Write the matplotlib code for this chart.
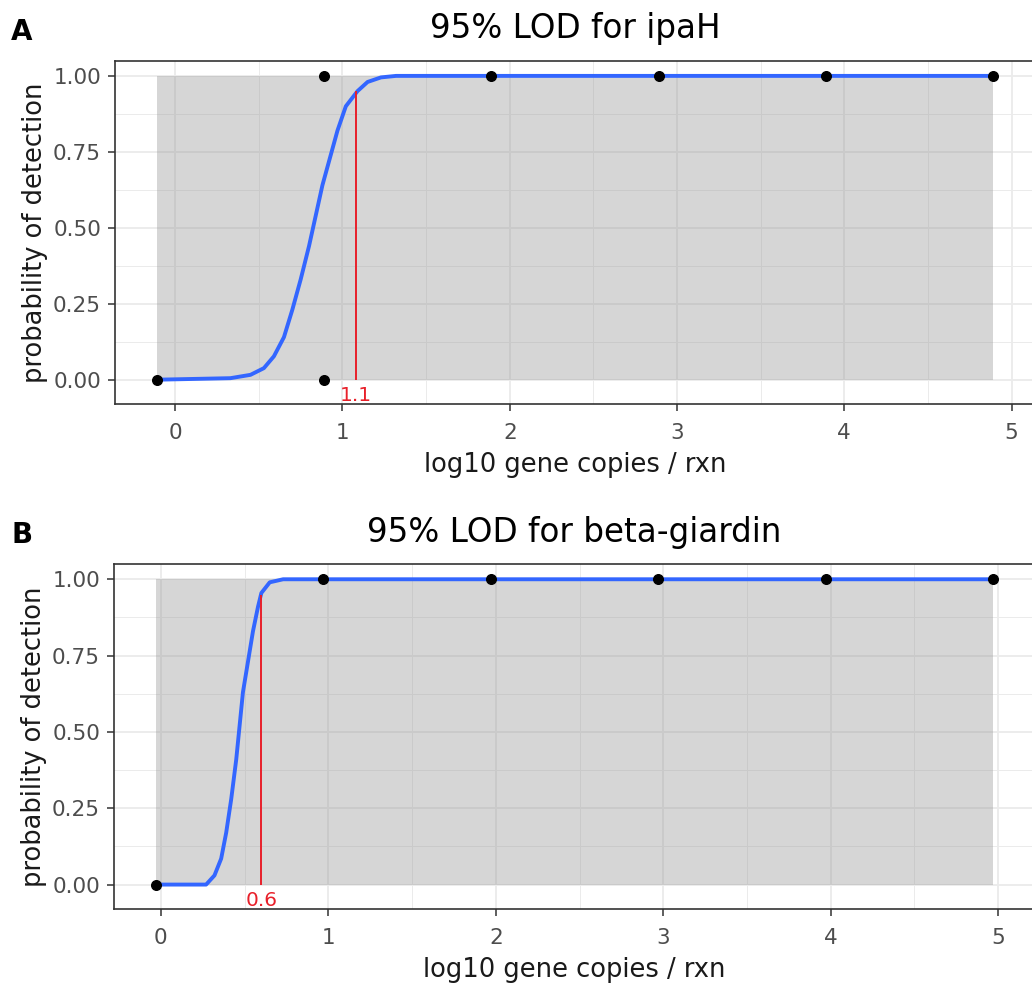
#!/usr/bin/env python3
"""Two-panel 95% LOD logistic fits (ipaH, beta-giardin)."""
import matplotlib
matplotlib.use("Agg")
import matplotlib.pyplot as plt
from matplotlib.ticker import MultipleLocator

# the reference text is wide for its height, DejaVu matches that better
plt.rcParams["font.family"] = ["DejaVu Sans"]

# panel A: ipaH
A_TITLE = "95% LOD for ipaH"
A_POINT_X = [-0.11, 0.89, 0.89, 1.89, 2.89, 3.89, 4.89]
A_POINT_Y = [0.0, 1.0, 0.0, 1.0, 1.0, 1.0, 1.0]
A_CURVE_X = [-0.11, 0.33, 0.45, 0.53, 0.59, 0.65, 0.70, 0.75, 0.80, 0.84,
             0.88, 0.92, 0.97, 1.02, 1.09, 1.15, 1.23, 1.32, 4.89]
A_CURVE_Y = [0.0, 0.005, 0.016, 0.038, 0.077, 0.14, 0.23, 0.33, 0.44, 0.54,
             0.64, 0.72, 0.82, 0.90, 0.95, 0.98, 0.995, 1.0, 1.0]
A_LOD = 1.08
A_LOD_P = 0.95
A_LOD_LABEL = "1.1"

# panel B: beta-giardin
B_TITLE = "95% LOD for beta-giardin"
B_POINT_X = [-0.03, 0.97, 1.97, 2.97, 3.97, 4.97]
B_POINT_Y = [0.0, 1.0, 1.0, 1.0, 1.0, 1.0]
B_CURVE_X = [-0.03, 0.27, 0.32, 0.36, 0.39, 0.42, 0.45, 0.47, 0.49, 0.52,
             0.55, 0.58, 0.60, 0.65, 0.73, 4.97]
B_CURVE_Y = [0.0, 0.0, 0.03, 0.085, 0.17, 0.28, 0.41, 0.52, 0.63, 0.73,
             0.83, 0.91, 0.955, 0.99, 1.0, 1.0]
B_LOD = 0.60
B_LOD_P = 0.95
B_LOD_LABEL = "0.6"

X_LABEL = "log10 gene copies / rxn"
Y_LABEL = "probability of detection"

W, H = 1032, 992


def draw_panel(fig, rect, tag, title, px, py, cx, cy, lod, lod_p, lod_label):
    ax = fig.add_axes(rect)
    ax.set_xlim(min(cx) - 0.25, max(cx) + 0.25)
    ax.set_ylim(-0.08, 1.05)
    ax.xaxis.set_major_locator(MultipleLocator(1))
    ax.xaxis.set_minor_locator(MultipleLocator(0.5))
    ax.yaxis.set_major_locator(MultipleLocator(0.25))
    ax.yaxis.set_minor_locator(MultipleLocator(0.125))
    ax.set_yticks([0, 0.25, 0.5, 0.75, 1.0])
    ax.set_yticklabels(["0.00", "0.25", "0.50", "0.75", "1.00"])
    ax.grid(True, which="major", color="#ebebeb", lw=1.3, zorder=0)
    ax.grid(True, which="minor", color="#ebebeb", lw=0.7, zorder=0)
    ax.set_axisbelow(True)
    ax.tick_params(which="minor", length=0)
    ax.tick_params(which="major", length=5, width=1.1, color="#333333",
                   labelcolor="#4d4d4d", labelsize=15.5)
    ax.tick_params(axis="x", pad=9)
    ax.tick_params(axis="y", pad=5)
    for spine in ax.spines.values():
        spine.set_color("#333333")
        spine.set_linewidth(1.2)

    ax.fill_between(cx, 0, 1, color="#999999", alpha=0.4, lw=0, zorder=1)
    ax.plot(cx, cy, color="#3366ff", lw=2.8, zorder=3)
    ax.vlines(lod, 0, lod_p, color="#e8202a", lw=1.4, zorder=4)
    ax.text(lod, -0.022, lod_label, color="#e8202a", fontsize=14.5,
            ha="center", va="top", zorder=4)
    ax.scatter(px, py, s=48, color="black", zorder=5, clip_on=False)

    ax.set_title(title, fontsize=23.5, pad=16)
    ax.set_xlabel(X_LABEL, fontsize=18.5, color="#1a1a1a")
    ax.set_ylabel(Y_LABEL, fontsize=18.5, color="#1a1a1a")
    ax.xaxis.set_label_coords(0.5, -0.14)
    ax.yaxis.set_label_coords(-0.073, 0.5)

    top_px = (1 - rect[1] - rect[3]) * H
    fig.text(11 / W, 1 - (top_px - 21) / H, tag, fontsize=20,
             fontweight="bold", va="baseline", ha="left")
    return ax


def main():
    fig = plt.figure(figsize=(W / 100, H / 100), dpi=100)
    fig.patch.set_facecolor("white")
    draw_panel(fig, [115 / W, 1 - 404 / H, 920 / W, 343.3 / H], "A", A_TITLE,
               A_POINT_X, A_POINT_Y, A_CURVE_X, A_CURVE_Y,
               A_LOD, A_LOD_P, A_LOD_LABEL)
    draw_panel(fig, [114 / W, 1 - 909 / H, 921 / W, 345 / H], "B", B_TITLE,
               B_POINT_X, B_POINT_Y, B_CURVE_X, B_CURVE_Y,
               B_LOD, B_LOD_P, B_LOD_LABEL)
    fig.savefig("out.png", dpi=100, facecolor="white")


if __name__ == "__main__":
    main()
